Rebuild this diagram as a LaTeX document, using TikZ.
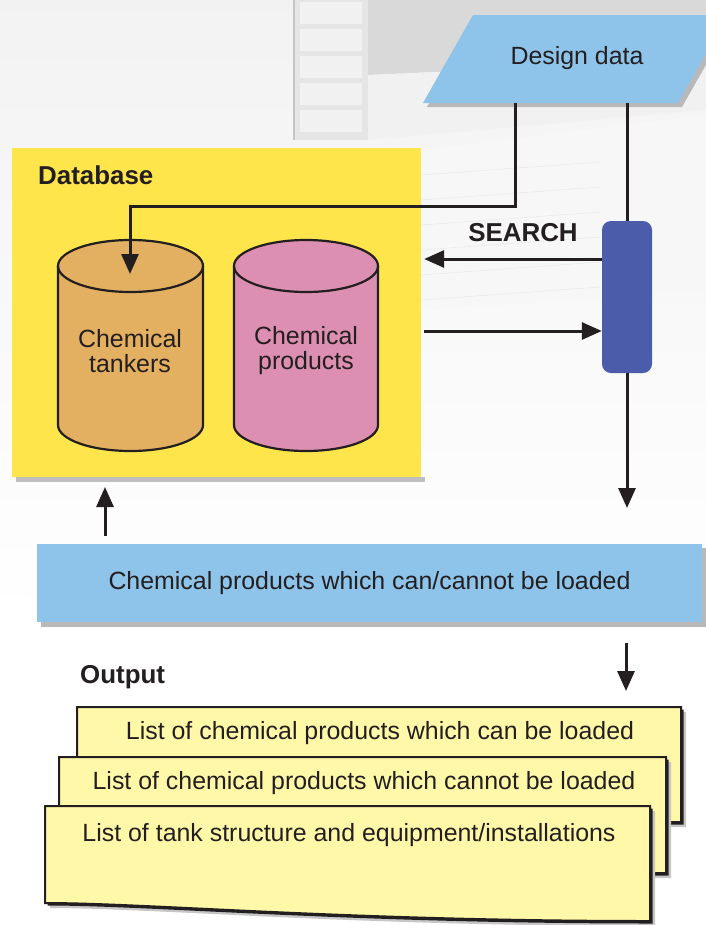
\documentclass[tikz,border=0pt]{standalone}
\usepackage{fontspec}
\setmainfont{Liberation Sans}
\usetikzlibrary{arrows.meta}
\definecolor{ddblue}{HTML}{8EC4EA}
\definecolor{dbyellow}{HTML}{FFE54C}
\definecolor{tankc}{HTML}{E3B062}
\definecolor{prodc}{HTML}{DC8FB0}
\definecolor{barc}{HTML}{4A5CAA}
\definecolor{docc}{HTML}{FFF8A8}
\definecolor{txt}{HTML}{231F20}
\newcommand\docshape[4]{%
  \fill[gray!45, shift={(5,5)}] (#1,#2) -- (#3,#2) -- (#3,#4) .. controls ({#1+0.5*(#3-#1)},#4) and ({#1+0.17*(#3-#1)},{#4-18}) .. (#1,{#4-18}) -- cycle;
  \fill[txt, shift={(2.5,2.5)}] (#1,#2) -- (#3,#2) -- (#3,#4) .. controls ({#1+0.5*(#3-#1)},#4) and ({#1+0.17*(#3-#1)},{#4-18}) .. (#1,{#4-18}) -- cycle;
  \filldraw[fill=docc, draw=txt, line width=2bp] (#1,#2) -- (#3,#2) -- (#3,#4) .. controls ({#1+0.5*(#3-#1)},#4) and ({#1+0.17*(#3-#1)},{#4-18}) .. (#1,{#4-18}) -- cycle;
}
\newcommand\cylshape[5]{% cx, top cy, bottom cy, rx, color
  \filldraw[fill=#5, draw=txt, line width=2.2bp] ({#1-#4},#2) -- ({#1-#4},#3) arc[start angle=180, end angle=360, x radius=#4 bp, y radius=26bp] -- ({#1+#4},#2) arc[start angle=0, end angle=180, x radius=#4 bp, y radius=26bp] -- cycle;
  \draw[draw=txt, line width=2.2bp] ({#1-#4},#2) arc[start angle=180, end angle=360, x radius=#4 bp, y radius=26bp];
}
\begin{document}
\begin{tikzpicture}[x=1bp,y=-1bp,
  conn/.style={line width=3bp, draw=txt},
  arr/.style={conn, -{Triangle[length=20bp,width=17bp]}},
  lbl/.style={font=\fontsize{25}{25}\selectfont, text=txt, align=center},
  blbl/.style={font=\fontsize{26}{28}\selectfont\bfseries, text=txt},
  ]
\useasboundingbox (0,0) rectangle (706,925);
% background
\shade[top color=gray!10, bottom color=white] (0,0) rectangle (706,620);
\fill[white] (0,620) rectangle (706,925);
\fill[gray!20] (293,0) rectangle (368,140);
\draw[gray!45, line width=2bp] (294,0) -- (294,140);
\foreach \yy in {0,27,54,81,108}{\fill[gray!11] (300,{\yy+2}) rectangle (362,{\yy+24});}
\fill[gray!30] (368,0) -- (706,0) -- (706,60) -- (368,75) -- cycle;
\fill[gray!11] (368,75) -- (706,60) -- (706,110) -- (368,140) -- cycle;
\fill[gray!6] (421,150) -- (706,115) -- (706,290) -- (421,310) -- cycle;
\foreach \yy in {0,25,50,75,100,125}{\draw[gray!16, line width=0.6bp] (421,{175+\yy}) -- (600,{162+\yy});}

% design data
\fill[gray!55] (427,107) -- (477,19) -- (732,19) -- (682,107) -- cycle;
\fill[ddblue] (423,103) -- (473,15) -- (728,15) -- (678,103) -- cycle;
\node[lbl, minimum width=200bp, minimum height=90bp, inner sep=0] (design) at (577,58) {Design data};

% database
\fill[gray!50] (16,477) rectangle (425,482);
\node[fill=dbyellow, minimum width=409bp, minimum height=329bp, inner sep=0] (db) at (216.5,312.5) {};
\node[blbl, anchor=west, inner sep=0] (dblabel) at (38,175) {Database};

% cylinders
\cylshape{130.5}{266}{425}{72.5}{tankc}
\cylshape{306}{266}{425}{72}{prodc}
\node[lbl] (tanker) at (130,351) {Chemical\\tankers};
\node[lbl] (products) at (306,351) {Chemical\\products};

% bar
\node[fill=barc, rounded corners=9bp, minimum width=50bp, minimum height=152bp, inner sep=0] (bar) at (627,297) {};

% connectors top
\coordinate (bend) at (130,206);
\coordinate (tankin) at (130,274);
\draw[arr] ([xshift=-62bp]design.south) |- (bend) -- (tankin);
\draw[conn] (bar.north |- design.south) -- (bar.north);
\draw[arr] ([yshift=38bp]bar.west) -- ([yshift=38bp, xshift=3bp]bar.west -| db.east);
\node[blbl] (search) at (523,233) {SEARCH};
\draw[arr] ([yshift=-34bp, xshift=3bp]bar.west -| db.east) -- ([yshift=-34bp]bar.west);
\coordinate (barout) at (626,508);
\draw[arr] (bar.south) -- (bar.south |- barout);

% result box
\fill[gray!55] (41,548) rectangle (706,627);
\node[fill=ddblue, minimum width=665bp, minimum height=78bp, inner sep=0, lbl] (result) at (369.5,583) {Chemical products which can/cannot be loaded};
\coordinate (upfrom) at (105,536);
\coordinate (upto) at (105,487);
\draw[arr] (upfrom) -- (upto);
\coordinate (dnfrom) at (626,643);
\coordinate (dnto) at (626,691);
\draw[arr] (dnfrom) -- (dnto);

% output
\node[blbl, anchor=west, inner sep=0] (output) at (80,677) {Output};
\docshape{77}{707}{681}{822}
\node[lbl] (doc1) at (380,733) {List of chemical products which can be loaded};
\docshape{59}{757}{666}{873}
\node[lbl] (doc2) at (364,783) {List of chemical products which cannot be loaded};
\docshape{45}{806}{650}{921}
\node[lbl] (doc3) at (349,835) {List of tank structure and equipment/installations};
\end{tikzpicture}
\end{document}
